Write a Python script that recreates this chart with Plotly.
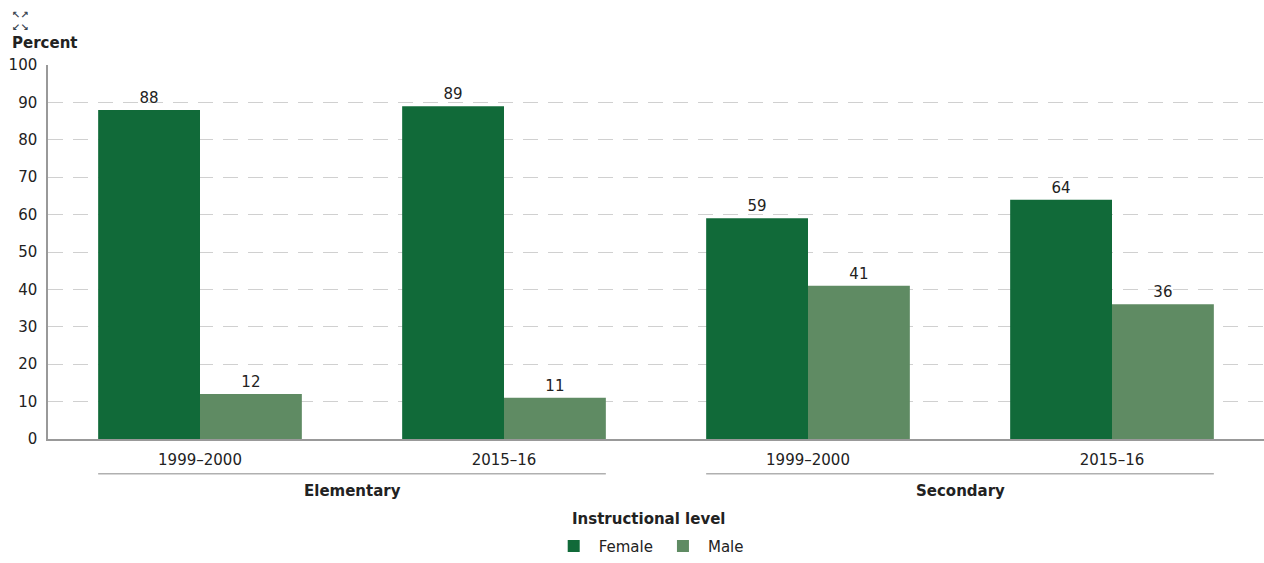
import plotly.graph_objects as go

periods = ["1999–2000", "2015–16", "1999–2000", "2015–16"]
levels = ["Elementary", "Elementary", "Secondary", "Secondary"]
female = [88, 89, 59, 64]
male = [12, 11, 41, 36]
group_names = ["Elementary", "Secondary"]
y_ticks = [0, 10, 20, 30, 40, 50, 60, 70, 80, 90, 100]

FONT = "DejaVu Sans"
C_F = "#116a39"
C_M = "#5f8b63"
bargap = 0.33

xs = list(range(len(periods)))
fig = go.Figure()
fig.add_trace(go.Bar(x=xs, y=female, name="Female", marker=dict(color=C_F, line=dict(width=0)),
                     text=[str(v) for v in female], textposition="outside",
                     textfont=dict(size=15, color="#222", family=FONT), cliponaxis=False))
fig.add_trace(go.Bar(x=xs, y=male, name="Male", marker=dict(color=C_M, line=dict(width=0)),
                     text=[str(v) for v in male], textposition="outside",
                     textfont=dict(size=15, color="#222", family=FONT), cliponaxis=False))

half = 0.5 - bargap / 2
shapes = []
annotations = []
for gi, g in enumerate(group_names):
    idx = [i for i, l in enumerate(levels) if l == g]
    x0, x1 = min(idx) - half, max(idx) + half
    shapes.append(dict(type="line", xref="x", yref="paper", x0=x0, x1=x1, y0=-0.093, y1=-0.093,
                       line=dict(color="#b0b0b0", width=1.5)))
    annotations.append(dict(x=(x0 + x1) / 2, y=-0.138, xref="x", yref="paper", yanchor="middle",
                            text="<b>" + g + "</b>",
                            showarrow=False, font=dict(size=15, color="#222", family=FONT)))

annotations.append(dict(x=0.494, y=-0.213, xref="paper", yref="paper", yanchor="middle",
                        text="<b>Instructional level</b>",
                        showarrow=False, font=dict(size=15, color="#222", family=FONT)))
annotations.append(dict(x=-0.031, y=1.058, xref="paper", yref="paper", xanchor="left", yanchor="middle",
                        text="<b>Percent</b>", showarrow=False, font=dict(size=15, color="#222", family=FONT)))
annotations.append(dict(x=-0.031, y=1.117, xref="paper", yref="paper", xanchor="left", yanchor="middle",
                        text="<b>↖↗<br>↙↘</b>", showarrow=False,
                        font=dict(size=10, color="#3a4450", family="DejaVu Sans")))

fig.update_layout(
    width=1264, height=563,
    margin=dict(l=48, r=0, t=65, b=122),
    plot_bgcolor="white", paper_bgcolor="white",
    barmode="group", bargap=bargap, bargroupgap=0,
    font=dict(family=FONT, size=15, color="#222"),
    showlegend=True,
    legend=dict(orientation="h", x=0.494, xanchor="center", y=-0.287, yanchor="middle",
                font=dict(size=15, family=FONT, color="#222"), itemwidth=40, traceorder="normal"),
    xaxis=dict(tickmode="array", tickvals=xs, ticktext=periods, range=[-0.5, len(xs) - 0.5],
               showgrid=False, showline=True, linecolor="#999", linewidth=1.5, ticks="",
               tickfont=dict(size=15, family=FONT, color="#222"), zeroline=False,
               ticklabelstandoff=6),
    yaxis=dict(range=[0, 100], tickvals=y_ticks, showgrid=True, gridcolor="#d0d0d0", griddash="15px,10px",
               gridwidth=1.2, showline=True, linecolor="#999", linewidth=1.5, ticks="", zeroline=False,
               tickfont=dict(size=15, family=FONT, color="#222"), ticklabelstandoff=6),
    shapes=shapes, annotations=annotations,
)
fig.write_html("out.html")
